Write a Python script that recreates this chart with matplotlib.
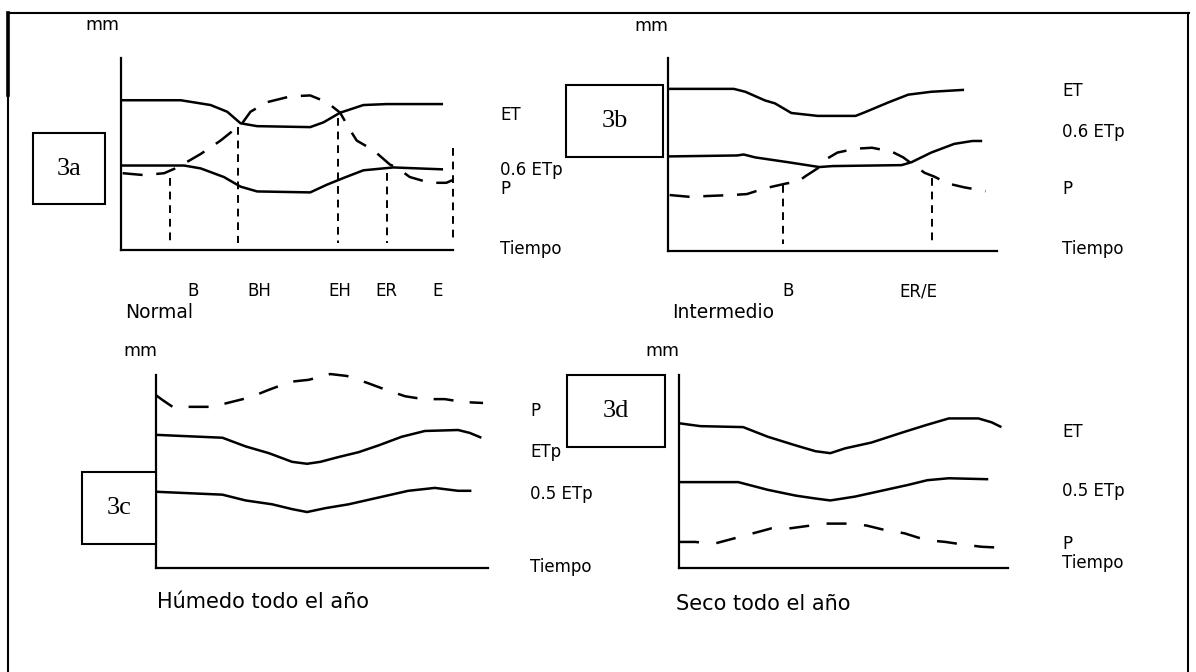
import matplotlib
matplotlib.use("Agg")
import matplotlib.pyplot as plt
from matplotlib.patches import Rectangle
from matplotlib.lines import Line2D

FIG_W, FIG_H = 1196, 672
SANS = "DejaVu Sans"
SERIF = "Liberation Serif"

# ---------------- 3a  Normal  (time in % of year, water in mm, relative) ----------------
A_ET_T = [0, 18, 27, 32, 36, 41, 57, 61, 66, 73, 80, 97]
A_ET_V = [78, 78, 75.5, 72, 66, 64.5, 64, 66.5, 71.5, 75.5, 76, 76]
A_ETP_T = [0, 19, 24, 31, 36, 41, 57, 62, 67, 73, 82, 97]
A_ETP_V = [44, 44, 42.5, 38, 33, 30.5, 30, 34, 37.5, 41.5, 43, 42]
A_P_T = [0.5, 7, 13, 17, 19, 24, 30, 36.5, 39, 44, 51, 57, 62, 66, 69, 71, 76, 81, 83, 87, 93, 98, 100]
A_P_V = [40, 39, 40, 43, 45, 50, 57, 66, 72, 77, 80, 80.5, 77, 71.5, 62.5, 57, 52, 44.5, 43, 38, 35, 35, 36.5]
A_MARK_T = [14.8, 35.2, 65.4, 80.1, 100]
A_MARK_TOP = [37.5, 64, 68.5, 40, 53]
A_EVENTS = ["B", "BH", "EH", "ER", "E"]
A_EVENT_X = [193, 259, 340, 386, 438]

# ---------------- 3b  Intermedio ----------------
B_ET_T = [0, 20, 23.5, 29.5, 32.5, 37.5, 45.5, 57, 60, 67, 73, 80, 90]
B_ET_V = [84, 84, 82.5, 78, 76.5, 71.5, 70, 70, 72, 77, 81, 82.5, 83.5]
B_ETP_T = [0, 21, 23, 26.5, 36.5, 46, 50, 71, 74, 80, 87, 92.5, 95.5]
B_ETP_V = [49, 49.5, 50, 48.5, 46, 43.5, 44, 44.5, 46, 51, 55.5, 57, 57]
B_P_T = [0.5, 7, 12, 19.5, 24, 29.5, 36, 39.5, 42, 47, 48.5, 51.5, 57, 62, 68, 71.5, 73.5, 78, 81, 85, 90, 96.5]
B_P_V = [29, 28, 28.5, 29, 29.5, 32.5, 35, 36, 39, 44.5, 48, 51, 53, 53.5, 51.5, 48.5, 46, 40.5, 38.5, 35, 33, 31]
B_MARK_T = [35, 80.2]
B_MARK_TOP = [34, 38]
B_EVENTS = ["B", "ER/E"]
B_EVENT_X = [788, 918]

# ---------------- 3c  Húmedo todo el año ----------------
C_P_T = [0, 2, 5, 11, 17, 21.5, 28.5, 33.5, 40.5, 46, 52.5, 57.5, 63.5, 69, 75, 80.5, 87, 92.5, 98.5]
C_P_V = [89.5, 87, 83.5, 83.5, 83.5, 85.5, 88.5, 92, 96.5, 97.5, 100.5, 99.5, 96, 92.5, 89, 87.5, 87.5, 86, 85.5]
C_ETP_T = [0, 6.5, 20, 27, 34, 41, 45.5, 49.5, 55, 61, 67, 74, 81, 91, 94.5, 98]
C_ETP_V = [69, 68.5, 67.5, 63, 59.5, 55, 54, 55, 57.5, 60, 63.5, 68, 71, 71.5, 70, 67.5]
C_HALF_T = [0, 20, 27, 35, 41, 45.5, 51, 58, 67, 76, 84, 91, 95]
C_HALF_V = [39.5, 38, 35, 33, 30.5, 29, 31, 33, 36.5, 40, 41.5, 40, 40]

# ---------------- 3d  Seco todo el año ----------------
D_ET_T = [0, 6.5, 19.5, 27, 35.5, 41.5, 46, 50.5, 58.5, 67.5, 75, 82, 91, 95, 98]
D_ET_V = [75, 73.5, 73, 68, 63.5, 60.5, 59.5, 62, 65, 70, 74, 77.5, 77.5, 75.5, 73]
D_HALF_T = [0, 18, 27, 35.5, 41.5, 46, 53.5, 61.5, 69.5, 75.5, 82, 94]
D_HALF_V = [44.5, 44.5, 40.5, 37.5, 36, 35, 37, 40, 43, 45.5, 46.5, 46]
D_P_T = [0, 5, 10.5, 16, 21.5, 28, 33.5, 40, 44.5, 51.5, 57, 63, 68.5, 75, 81, 87, 92, 98]
D_P_V = [13.5, 13.5, 12.5, 15, 17.5, 20.5, 20.5, 22, 23, 23, 22, 19.5, 18, 14.5, 13.5, 12, 11, 10.5]

MARK_BASE = 3.5

LW_CURVE = 1.8
LW_AXIS = 1.6
P_DASH = (8, 5.5)
MARK_DASH = (4, 3)
LABEL_SIZE = 12
TITLE_SIZE = 13.5


def fx(x):
    return x / FIG_W


def fy(y):
    return 1 - y / FIG_H


fig = plt.figure(figsize=(FIG_W / 100, FIG_H / 100), dpi=100)
fig.patch.set_facecolor("white")


def panel(x0, y_bottom, x1, y_top):
    ax = fig.add_axes([fx(x0), fy(y_bottom), (x1 - x0) / FIG_W, (y_bottom - y_top) / FIG_H])
    ax.set_xlim(0, 100)
    ax.set_ylim(0, 100)
    for side in ("top", "right"):
        ax.spines[side].set_visible(False)
    for side in ("left", "bottom"):
        ax.spines[side].set_linewidth(LW_AXIS)
        ax.spines[side].set_color("black")
    ax.set_xticks([])
    ax.set_yticks([])
    ax.patch.set_alpha(0)
    return ax


def solid(ax, t, v):
    ax.plot(t, v, color="black", lw=LW_CURVE, solid_capstyle="butt", clip_on=False)


def dashed(ax, t, v, dash=P_DASH):
    ax.plot(t, v, color="black", lw=LW_CURVE, dashes=dash, clip_on=False)


def markers(ax, ts, tops):
    for t, top in zip(ts, tops):
        ax.plot([t, t], [top, MARK_BASE], color="black", lw=1.4, dashes=MARK_DASH, clip_on=False)


def label(x, y, s, size=LABEL_SIZE, ha="left", family=SANS):
    fig.text(fx(x), fy(y), s, ha=ha, va="center", fontsize=size, family=family, color="black", zorder=3)


def box(x0, y0, x1, y1, s):
    fig.add_artist(Rectangle((fx(x0), fy(y1)), (x1 - x0) / FIG_W, (y1 - y0) / FIG_H,
                             transform=fig.transFigure, facecolor="white", edgecolor="black",
                             lw=1.5, zorder=5))
    fig.text(fx((x0 + x1) / 2), fy((y0 + y1) / 2), s, ha="center", va="center",
             fontsize=19, family=SERIF, color="black", zorder=6)


# outer frame
for xs, ys, lw in [([8, 8], [13, 672], 1.5), ([8, 8], [13, 95], 2.6),
                   ([8, 1189], [13, 13], 1.5), ([1188, 1188], [13, 672], 1.5)]:
    fig.add_artist(Line2D([fx(v) for v in xs], [fy(v) for v in ys], transform=fig.transFigure,
                          color="black", lw=lw))

# ---- 3a ----
ax_a = panel(121, 250, 453, 58)
solid(ax_a, A_ET_T, A_ET_V)
solid(ax_a, A_ETP_T, A_ETP_V)
dashed(ax_a, A_P_T, A_P_V)
markers(ax_a, A_MARK_T, A_MARK_TOP)
label(102, 25, "mm", size=12.5, ha="center")
label(500, 115, "ET")
label(500, 170, "0.6 ETp")
label(500, 189, "P")
label(500, 249, "Tiempo")
for name, x in zip(A_EVENTS, A_EVENT_X):
    label(x, 291, name, ha="center")
label(125, 313, "Normal", size=TITLE_SIZE)
box(33, 133, 105, 204, "3a")

# ---- 3b ----
ax_b = panel(668, 251, 997, 58)
solid(ax_b, B_ET_T, B_ET_V)
solid(ax_b, B_ETP_T, B_ETP_V)
dashed(ax_b, B_P_T, B_P_V)
markers(ax_b, B_MARK_T, B_MARK_TOP)
label(651, 26, "mm", size=12.5, ha="center")
label(1062, 91, "ET")
label(1062, 132, "0.6 ETp")
label(1062, 189, "P")
label(1062, 249, "Tiempo")
for name, x in zip(B_EVENTS, B_EVENT_X):
    label(x, 291, name, ha="center")
label(672, 313, "Intermedio", size=TITLE_SIZE)
box(566, 85, 663, 157, "3b")

# ---- 3c ----
ax_c = panel(156, 568, 488, 375)
dashed(ax_c, C_P_T, C_P_V, dash=(8, 6.5))
solid(ax_c, C_ETP_T, C_ETP_V)
solid(ax_c, C_HALF_T, C_HALF_V)
label(140, 351, "mm", size=12.5, ha="center")
label(530, 411, "P")
label(530, 452, "ETp")
label(530, 494, "0.5 ETp")
label(530, 567, "Tiempo")
label(157, 602, "Húmedo todo el año", size=15)
box(82, 472, 156, 544, "3c")

# ---- 3d ----
ax_d = panel(679, 568, 1008, 375)
solid(ax_d, D_ET_T, D_ET_V)
solid(ax_d, D_HALF_T, D_HALF_V)
dashed(ax_d, D_P_T, D_P_V, dash=(8, 7))
label(662, 351, "mm", size=12.5, ha="center")
label(1062, 432, "ET")
label(1062, 491, "0.5 ETp")
label(1062, 544, "P")
label(1062, 563, "Tiempo")
label(676, 604, "Seco todo el año", size=15)
box(567, 375, 665, 447, "3d")

fig.savefig("out.png", dpi=100, facecolor="white")
